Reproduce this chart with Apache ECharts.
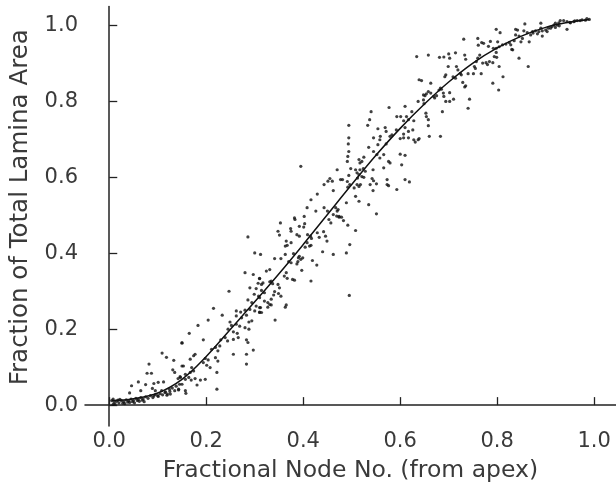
<!DOCTYPE html>
<html>
<head>
<meta charset="utf-8">
<script src="https://cdn.jsdelivr.net/npm/echarts@6/dist/echarts.min.js"></script>
<style>html,body{margin:0;padding:0;background:#fff}#c{width:616px;height:488px}</style>
</head>
<body>
<div id="c"></div>
<script>
// Tick values
const xTicks = [0, 0.2, 0.4, 0.6, 0.8, 1.0];
const yTicks = [0, 0.2, 0.4, 0.6, 0.8, 1.0];

// Fitted curve
const curveX = [0.005, 0.05, 0.1, 0.15, 0.2, 0.25, 0.3, 0.35, 0.4, 0.45, 0.5, 0.55, 0.6, 0.65, 0.7, 0.75, 0.8, 0.85, 0.9, 0.95, 0.99];
const curveY = [0.012, 0.017, 0.032, 0.068, 0.128, 0.2, 0.272, 0.346, 0.423, 0.502, 0.581, 0.658, 0.729, 0.793, 0.851, 0.901, 0.941, 0.972, 0.995, 1.009, 1.016];

const pointX = [
0.150,0.109,0.118,0.133,0.082,0.131,0.135,0.078,0.087,0.150,0.060,0.046,0.075,0.092,0.101,0.112,0.142,0.146,0.042,0.065,0.089,0.095,0.108,0.116,0.124,0.135,0.143,0.092,0.101,0.119,0.126,
0.005,0.010,0.015,0.020,0.025,0.030,0.035,0.040,0.045,0.050,0.055,0.060,0.065,0.070,0.012,0.022,0.032,0.042,0.052,0.062,0.075,0.080,0.085,0.090,0.095,0.100,0.105,0.110,0.115,0.120,0.125,0.130,0.138,0.145,0.018,0.028,0.038,0.048,0.058,0.068,0.072,0.008,0.008,
0.280,0.297,0.310,0.307,0.314,0.290,0.303,0.247,0.299,0.308,0.286,0.294,0.303,0.310,0.314,0.215,0.262,0.271,0.280,0.290,0.300,0.310,0.233,0.262,0.273,0.283,0.294,0.288,0.204,0.249,0.252,0.262,0.269,0.280,0.288,0.183,0.245,0.256,0.264,0.165,0.239,0.230,0.244,0.256,0.266,0.194,0.283,0.286,0.150,0.211,0.219,0.228,0.224,0.297,0.256,0.283,0.177,0.167,0.174,0.198,0.204,0.194,0.201,0.208,0.219,0.224,0.153,0.170,0.174,0.167,0.157,0.283,0.222,0.147,0.157,0.164,0.169,0.177,0.188,0.198,0.150,0.181,0.143,0.157,0.158,0.222,
0.455,0.460,0.451,0.443,0.462,0.429,0.416,0.477,0.408,0.426,0.443,0.450,0.467,0.470,0.462,0.469,0.474,0.382,0.383,0.402,0.403,0.401,0.392,0.353,0.348,0.351,0.374,0.375,0.387,0.392,0.409,0.415,0.417,0.429,0.433,0.442,0.446,0.453,0.457,0.449,0.365,0.367,0.363,0.375,0.408,0.413,0.416,0.404,0.440,0.462,0.312,0.341,0.354,0.363,0.380,0.392,0.395,0.389,0.387,0.390,0.399,0.419,0.428,0.370,0.375,0.324,0.331,0.365,0.361,0.367,0.397,0.378,0.382,0.416,0.310,0.317,0.331,0.334,0.337,0.348,0.351,0.314,0.320,0.341,0.339,0.349,0.354,0.334,0.310,0.320,0.327,0.331,0.327,0.334,0.312,0.310,0.365,0.363,0.342,0.395,0.286,0.300,
0.577,0.610,0.540,0.593,0.601,0.624,0.613,0.537,0.617,0.628,0.607,0.494,0.533,0.569,0.571,0.554,0.559,0.579,0.583,0.592,0.610,0.626,0.617,0.607,0.545,0.558,0.600,0.607,0.617,0.628,0.631,0.639,0.494,0.493,0.494,0.492,0.491,0.535,0.554,0.571,0.545,0.552,0.558,0.566,0.600,0.610,0.603,0.576,0.579,0.566,0.515,0.521,0.525,0.517,0.498,0.508,0.511,0.517,0.524,0.528,0.515,0.521,0.512,0.525,0.544,0.542,0.545,0.551,0.538,0.544,0.573,0.573,0.576,0.593,0.610,0.619,0.481,0.494,0.491,0.496,0.492,0.505,0.511,0.518,0.515,0.508,0.515,0.535,0.489,0.551,0.472,0.474,0.479,0.483,0.492,0.508,0.496,0.489,0.495,0.470,
0.658,0.681,0.690,0.700,0.702,0.714,0.733,0.735,0.764,0.760,0.757,0.770,0.780,0.777,0.784,0.791,0.794,0.798,0.634,0.699,0.716,0.719,0.724,0.753,0.755,0.751,0.767,0.791,0.803,0.694,0.692,0.709,0.714,0.726,0.740,0.639,0.644,0.663,0.729,0.735,0.733,0.680,0.658,0.663,0.654,0.651,0.648,0.683,0.689,0.690,0.702,0.685,0.669,0.671,0.675,0.637,0.648,0.649,0.694,0.702,0.710,0.743,0.740,0.687,0.653,0.654,0.658,0.658,0.660,0.683,0.637,
0.731,0.760,0.798,0.772,0.768,0.782,0.786,0.792,0.761,
0.990,0.982,0.971,0.965,0.958,0.951,0.944,0.937,0.930,0.927,0.920,0.924,0.917,0.913,0.920,0.910,0.905,0.900,0.893,0.886,0.890,0.903,
0.857,0.890,0.838,0.842,0.855,0.862,0.873,0.874,0.869,0.879,0.883,0.893,0.838,0.845,0.852,0.866,0.835,0.849,0.825,0.818,0.811,0.804,0.828,0.830,0.832,0.806,0.801,0.798,0.799,0.845,0.864,0.804,0.812,0.944,0.928,0.975,0.985,0.960,0.950
];
const pointY = [
0.163,0.137,0.126,0.118,0.108,0.093,0.086,0.084,0.084,0.103,0.061,0.051,0.054,0.057,0.060,0.061,0.070,0.075,0.032,0.038,0.044,0.038,0.038,0.035,0.042,0.038,0.040,0.024,0.023,0.026,0.029,
0.012,0.008,0.010,0.006,0.012,0.009,0.014,0.011,0.016,0.012,0.018,0.015,0.020,0.016,0.003,0.015,0.004,0.007,0.006,0.010,0.022,0.018,0.025,0.020,0.028,0.025,0.030,0.027,0.033,0.029,0.036,0.045,0.050,0.055,0.013,0.005,0.008,0.009,0.012,0.013,0.009,0.016,0.002,
0.349,0.344,0.333,0.321,0.318,0.309,0.307,0.300,0.292,0.287,0.277,0.270,0.261,0.257,0.244,0.255,0.248,0.245,0.250,0.252,0.248,0.245,0.237,0.235,0.230,0.237,0.222,0.219,0.224,0.219,0.210,0.213,0.208,0.204,0.200,0.210,0.200,0.193,0.189,0.189,0.178,0.172,0.169,0.173,0.178,0.172,0.172,0.165,0.165,0.147,0.152,0.156,0.143,0.145,0.134,0.134,0.134,0.121,0.130,0.123,0.119,0.112,0.105,0.099,0.125,0.116,0.103,0.099,0.090,0.086,0.081,0.108,0.086,0.073,0.068,0.073,0.066,0.070,0.066,0.068,0.055,0.053,0.042,0.038,0.031,0.042,
0.597,0.590,0.590,0.581,0.565,0.556,0.541,0.594,0.520,0.511,0.520,0.511,0.520,0.511,0.502,0.498,0.495,0.493,0.489,0.497,0.478,0.469,0.471,0.480,0.458,0.448,0.465,0.458,0.449,0.445,0.449,0.445,0.439,0.454,0.442,0.457,0.445,0.489,0.480,0.432,0.432,0.421,0.419,0.428,0.428,0.419,0.421,0.416,0.404,0.397,0.397,0.386,0.386,0.397,0.399,0.392,0.384,0.378,0.372,0.388,0.388,0.381,0.369,0.378,0.375,0.353,0.357,0.349,0.340,0.334,0.355,0.331,0.329,0.327,0.334,0.322,0.325,0.327,0.320,0.318,0.309,0.302,0.296,0.299,0.290,0.294,0.287,0.279,0.283,0.274,0.270,0.265,0.258,0.264,0.257,0.244,0.264,0.258,0.224,0.629,0.443,0.401,
0.784,0.787,0.773,0.760,0.760,0.773,0.760,0.752,0.752,0.749,0.749,0.737,0.737,0.731,0.721,0.728,0.708,0.708,0.712,0.725,0.731,0.725,0.721,0.714,0.704,0.699,0.702,0.704,0.704,0.699,0.693,0.702,0.704,0.688,0.668,0.655,0.642,0.679,0.686,0.688,0.668,0.660,0.651,0.660,0.661,0.658,0.633,0.642,0.638,0.625,0.647,0.642,0.653,0.638,0.623,0.620,0.612,0.620,0.623,0.616,0.607,0.602,0.598,0.600,0.620,0.597,0.591,0.583,0.581,0.565,0.594,0.581,0.578,0.568,0.594,0.588,0.594,0.605,0.589,0.581,0.574,0.572,0.581,0.581,0.576,0.550,0.537,0.528,0.533,0.504,0.515,0.497,0.495,0.486,0.474,0.460,0.423,0.401,0.289,0.620,
0.922,0.916,0.917,0.925,0.914,0.928,0.922,0.911,0.922,0.914,0.905,0.901,0.897,0.902,0.905,0.902,0.918,0.929,0.918,0.892,0.892,0.883,0.874,0.892,0.887,0.873,0.873,0.848,0.830,0.870,0.865,0.865,0.861,0.870,0.873,0.857,0.855,0.848,0.850,0.841,0.838,0.830,0.826,0.822,0.820,0.815,0.817,0.835,0.822,0.813,0.823,0.832,0.813,0.809,0.815,0.800,0.804,0.794,0.800,0.800,0.806,0.806,0.782,0.773,0.769,0.760,0.752,0.736,0.708,0.708,0.699,
0.964,0.966,0.990,0.953,0.955,0.945,0.958,0.940,0.948,
1.016,1.014,1.013,1.013,1.010,1.007,1.010,1.013,1.013,1.007,1.006,1.001,1.001,0.997,0.995,0.993,0.993,0.988,0.986,0.984,0.993,0.984,
1.004,1.006,0.990,0.988,0.986,0.981,0.984,0.980,0.975,0.986,0.978,0.972,0.975,0.972,0.966,0.957,0.960,0.957,0.955,0.951,0.949,0.944,0.949,0.937,0.936,0.981,0.957,0.940,0.916,0.914,0.892,0.892,0.865,0.990,0.999,1.015,1.018,1.012,1.008
];

const points = pointX.map((x, i) => [x, pointY[i]]);
const curve = curveX.map((x, i) => [x, curveY[i]]);

const chart = echarts.init(document.getElementById('c'), null, {renderer: 'canvas'});
const axisColor = '#222';
const textColor = '#3a3a3a';
const fontFam = 'DejaVu Sans';
chart.setOption({
  animation: false,
  backgroundColor: '#fff',
  grid: {left: 80.5, right: 0, top: 6.5, bottom: 61, containLabel: false},
  xAxis: {
    type: 'value', min: -0.05, max: 1.045,
    name: 'Fractional Node No. (from apex)', nameLocation: 'middle', nameGap: 33,
    nameTextStyle: {fontFamily: fontFam, fontSize: 23.5, color: textColor},
    axisLine: {show: true, lineStyle: {color: axisColor, width: 1.5}},
    axisTick: {show: true, inside: true, length: 8, customValues: xTicks, lineStyle: {color: axisColor, width: 1.3}},
    axisLabel: {customValues: xTicks, formatter: v => v.toFixed(1), fontFamily: fontFam, fontSize: 21, color: textColor, margin: 5},
    splitLine: {show: false}
  },
  yAxis: {
    type: 'value', min: -0.055, max: 1.05,
    name: 'Fraction of Total Lamina Area', nameLocation: 'middle', nameGap: 52,
    nameTextStyle: {fontFamily: fontFam, fontSize: 24.5, color: textColor, padding: [0, 0, 0, 18]},
    axisLine: {show: true, lineStyle: {color: axisColor, width: 1.5}},
    axisTick: {show: true, inside: true, length: 8, customValues: yTicks, lineStyle: {color: axisColor, width: 1.3}},
    axisLabel: {customValues: yTicks, formatter: v => v.toFixed(1), fontFamily: fontFam, fontSize: 21, color: textColor, margin: 7},
    splitLine: {show: false}
  },
  series: [
    {type: 'scatter', data: points, symbol: 'circle', symbolSize: 3.2, itemStyle: {color: '#111'}, z: 2},
    {type: 'line', data: curve, smooth: 0.4, showSymbol: false, lineStyle: {color: '#111', width: 1.5}, z: 3}
  ]
});
</script>
</body>
</html>
